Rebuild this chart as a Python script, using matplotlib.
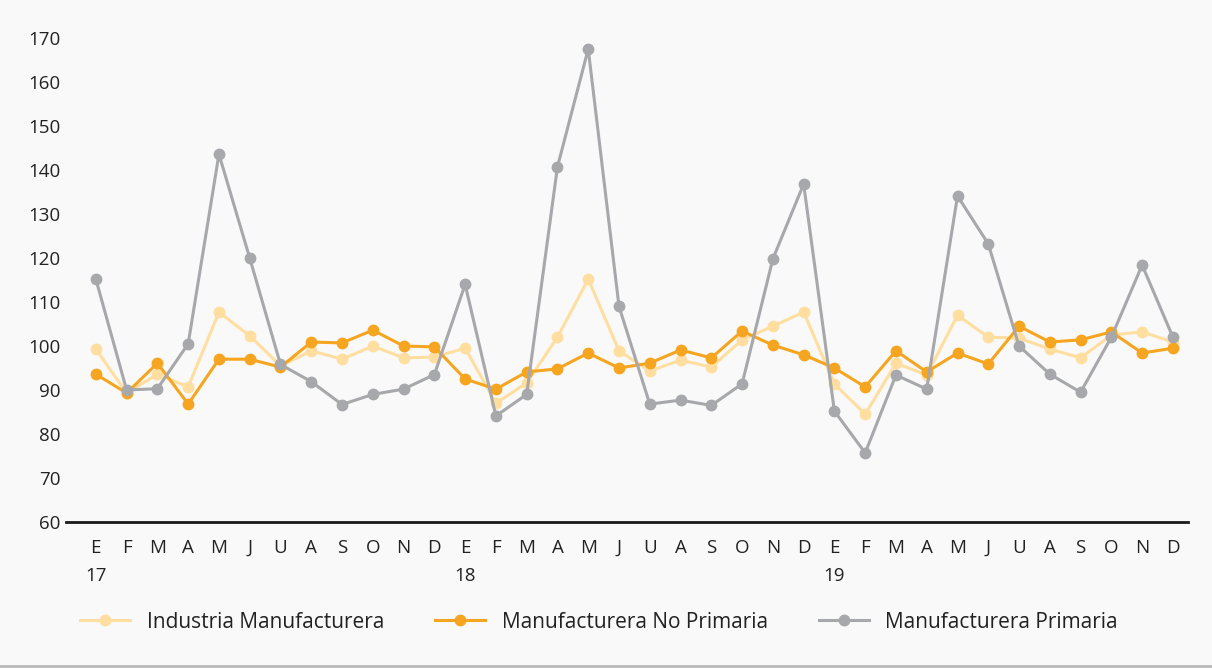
import matplotlib.pyplot as plt
from matplotlib.lines import Line2D

# Month letters and year labels for the x axis
months = ["E", "F", "M", "A", "M", "J", "U", "A", "S", "O", "N", "D"] * 3
years = {0: "17", 12: "18", 24: "19"}

industria = [99.3, 89.3, 93.6, 90.7, 107.7, 102.3, 95.5, 98.9, 97.0, 100.0, 97.3, 97.5,
             99.5, 87.0, 91.6, 102.0, 115.2, 98.9, 94.3, 96.8, 95.2, 101.4, 104.5, 107.7,
             91.4, 84.5, 96.1, 93.4, 107.0, 102.0, 101.8, 99.3, 97.3, 102.5, 103.2, 100.9]
no_primaria = [93.6, 89.3, 96.1, 86.8, 97.0, 97.0, 95.2, 100.9, 100.7, 103.6, 100.0, 99.8,
               92.5, 90.2, 94.1, 94.8, 98.4, 95.0, 96.1, 99.1, 97.3, 103.4, 100.2, 98.0,
               95.0, 90.7, 98.9, 94.1, 98.4, 95.9, 104.5, 100.9, 101.4, 103.2, 98.4, 99.5]
primaria = [115.2, 90.0, 90.3, 100.5, 143.6, 120.0, 95.8, 91.9, 86.7, 89.0, 90.2, 93.5,
            114.0, 84.1, 89.0, 140.7, 167.5, 109.0, 86.8, 87.7, 86.5, 91.4, 119.8, 136.8,
            85.2, 75.7, 93.4, 90.2, 134.1, 123.2, 100.0, 93.6, 89.5, 102.0, 118.4, 102.0]

c_light = "#FFDEA0"
c_orange = "#F6A520"
c_grey = "#A7A8AB"
bg = "#F9F9F9"

plt.rcParams["font.family"] = ["Open Sans", "DejaVu Sans"]

fig = plt.figure(figsize=(12.12, 6.68), dpi=100, facecolor=bg)
ax = fig.add_axes([66 / 1212, 1 - 522 / 668, (1188 - 66) / 1212, (522 - 38) / 668])
ax.set_facecolor(bg)

x = list(range(len(months)))
style = dict(marker="o", markersize=7.5, linewidth=2.2)
ax.plot(x, industria, color=c_light, label="Industria Manufacturera", **style)
ax.plot(x, no_primaria, color=c_orange, label="Manufacturera No Primaria", **style)
ax.plot(x, primaria, color=c_grey, label="Manufacturera Primaria", **style)

ax.set_ylim(60, 170)
ax.set_xlim(-0.97, 35.49)
ax.set_yticks(range(60, 171, 10))
ax.set_xticks(x)
ax.set_xticklabels([m + ("\n" + years[i] if i in years else "\n ") for i, m in enumerate(months)],
                   linespacing=1.75)
ax.tick_params(axis="both", length=0, labelsize=13.5, colors="#222222")
ax.tick_params(axis="x", pad=12)
ax.tick_params(axis="y", pad=4)

for side in ["top", "right", "left"]:
    ax.spines[side].set_visible(False)
ax.spines["bottom"].set_color("#1a1a1a")
ax.spines["bottom"].set_linewidth(2)

fig.legend(loc="center", bbox_to_anchor=(599 / 1212, 1 - 622 / 668), ncol=3, frameon=False,
           fontsize=15, handlelength=2.4, columnspacing=2.45, handletextpad=0.8,
           labelcolor="#222222")

# thin border at the bottom of the picture
fig.add_artist(Line2D([0, 1], [0.003, 0.003], color="#B8B8B8", linewidth=2,
                      transform=fig.transFigure))

fig.savefig("out.png", dpi=100, facecolor=bg)
